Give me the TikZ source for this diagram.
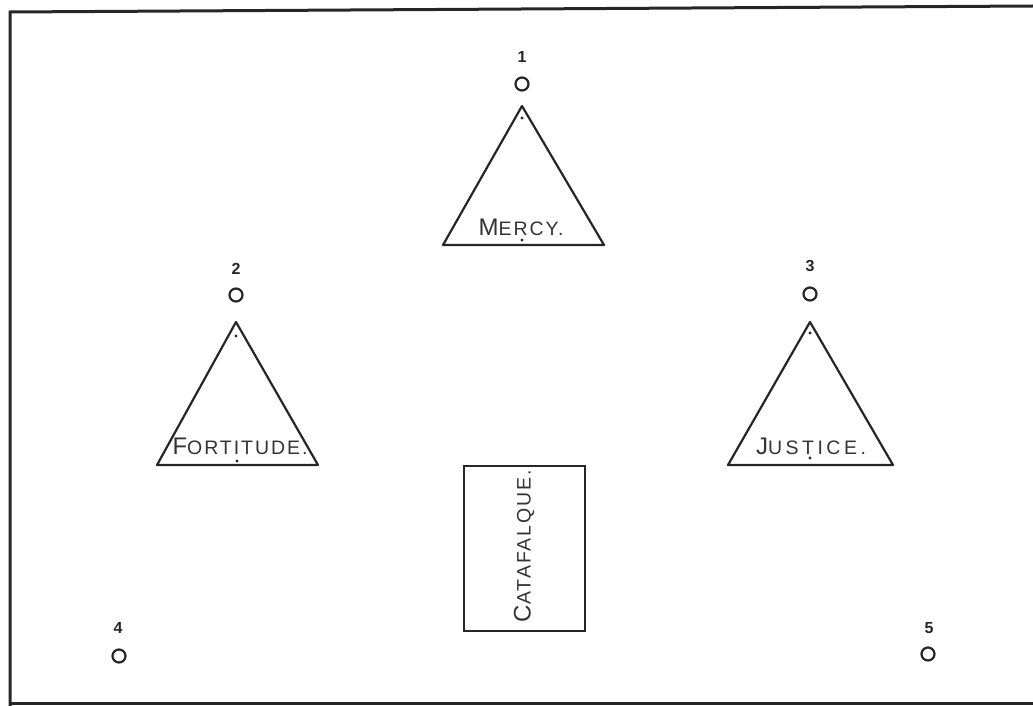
\documentclass[tikz,border=0pt]{standalone}
\usepackage{fontspec}
\setmainfont{Liberation Sans}
\newcommand{\bigsm}[3][10]{{\fontsize{24}{24}\selectfont\addfontfeature{LetterSpace=#1}#2}{\fontsize{19.5}{19.5}\selectfont\addfontfeature{LetterSpace=#1}#3}}
\begin{document}
\begin{tikzpicture}[x=1pt,y=-1pt,
  frame/.style={line width=3pt,black!85},
  tri/.style={line width=2.2pt,black!85,line join=round},
  seat/.style={circle,draw=black!85,line width=2.2pt,minimum size=13pt,inner sep=0pt},
  num/.style={font=\fontsize{16}{16}\selectfont\bfseries,text=black!85,inner sep=0pt},
  lbl/.style={text=black!80,inner sep=0pt},
  pt/.style={circle,fill=black!85,minimum size=3.2pt,inner sep=0pt},
  box/.style={draw=black!85,line width=2.2pt}]
\useasboundingbox (0,0) rectangle (1033,706);
% frame (left, top, bottom; right edge runs off)
\coordinate (fb) at (10,706);
\coordinate (ftl) at (10,12);
\coordinate (ftr) at (1033,6);
\coordinate (fbl) at (10,703);
\coordinate (fbr) at (1033,703);
\draw[frame] (fb) -- (ftl) -- (ftr);
\draw[frame] (fbl) -- (fbr);
% seat 1 and Mercy
\node[num] (n1) at (522,57) {1};
\node[seat] (s1) at (522,84) {};
\coordinate (a1) at (522,106);
\coordinate (l1) at (443,245);
\coordinate (r1) at (604,245);
\draw[tri] (a1) -- (l1) -- (r1) -- cycle;
\node[pt] (d1a) at (522,118) {};
\node[pt] (d1b) at (522,240) {};
\node[lbl] (m) at (521,227) {\bigsm{M}{ERCY.}};
% seat 2 and Fortitude
\node[num] (n2) at (236,269) {2};
\node[seat] (s2) at (236,295) {};
\coordinate (a2) at (236,322);
\coordinate (l2) at (157,465);
\coordinate (r2) at (318,465);
\draw[tri] (a2) -- (l2) -- (r2) -- cycle;
\node[pt] (d2a) at (236,336) {};
\node[pt] (d2b) at (237,461) {};
\node[lbl] (f) at (240,446) {\bigsm{F}{ORTITUDE.}};
% seat 3 and Justice
\node[num] (n3) at (810,266) {3};
\node[seat] (s3) at (810,294) {};
\coordinate (a3) at (810,322);
\coordinate (l3) at (728,465);
\coordinate (r3) at (893,465);
\draw[tri] (a3) -- (l3) -- (r3) -- cycle;
\node[pt] (d3a) at (810,333) {};
\node[pt] (d3b) at (810,458) {};
\node[lbl] (j) at (811,446) {\bigsm[18]{J}{USTICE.}};
% catafalque
\node[box,minimum width=121pt,minimum height=165pt] (cat) at (524.5,548.5) {};
\node[lbl,rotate=90] (ct) at (524,546) {\bigsm{C}{ATAFALQUE.}};
% seats 4 and 5
\node[num] (n4) at (118,628) {4};
\node[seat] (s4) at (119,656) {};
\node[num] (n5) at (929,628) {5};
\node[seat] (s5) at (928,654) {};
\end{tikzpicture}
\end{document}
